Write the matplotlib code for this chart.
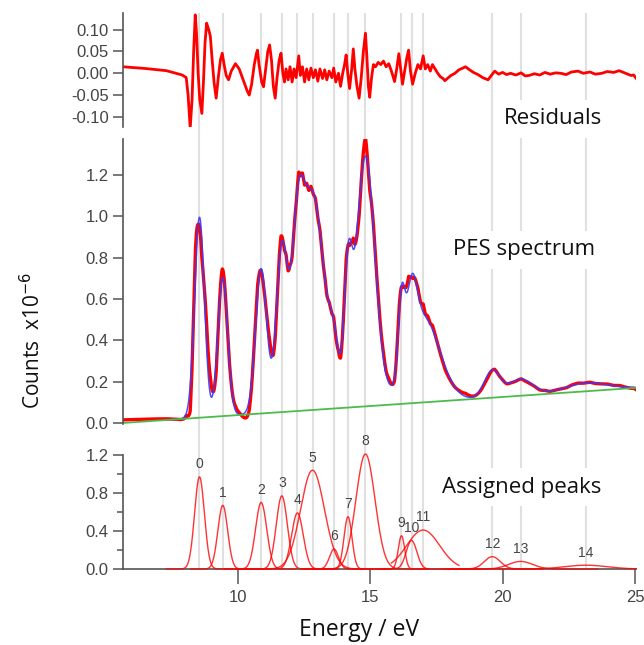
import numpy as np
import matplotlib.pyplot as plt

plt.rcParams['axes.unicode_minus'] = False

# peak centres (eV), heights (x1e-6 counts) and gaussian widths (eV)
peak_e = [8.55, 9.43, 10.88, 11.66, 12.25, 12.82, 13.63, 14.16, 14.82,
          16.18, 16.56, 17.00, 19.61, 20.68, 23.15]
peak_h = [0.97, 0.67, 0.70, 0.77, 0.59, 1.04, 0.21, 0.55, 1.21,
          0.35, 0.30, 0.41, 0.13, 0.08, 0.04]
peak_w = [0.185, 0.185, 0.21, 0.21, 0.22, 0.45, 0.17, 0.15, 0.36,
          0.12, 0.20, 0.62, 0.30, 0.45, 0.80]
# energy range over which each peak is drawn in the lower panel
peak_lo = [7.3, 8.2, 9.5, 10.3, 10.7, 9.9, 12.5, 13.2, 12.4,
           15.2, 15.4, 15.8, 17.7, 17.8, 18.0]
peak_hi = [9.8, 10.6, 12.2, 13.0, 13.8, 15.7, 14.7, 15.1, 17.2,
           17.1, 17.7, 18.35, 21.5, 23.6, 25.1]

# linear background (end points)
bg_e = [5.65, 25.05]
bg_v = [0.0, 0.17]

# residuals
res_e = [5.65, 6.5, 7.3, 7.9, 8.05, 8.12, 8.2, 8.27, 8.33, 8.39, 8.44, 8.5,
         8.56, 8.64, 8.7, 8.76, 8.82, 8.9, 8.96, 9.03, 9.1, 9.18, 9.26, 9.34,
         9.41, 9.48, 9.56, 9.65, 9.75, 9.91, 10.05, 10.2, 10.35, 10.43, 10.52,
         10.62, 10.7, 10.74, 10.8, 10.9, 10.97, 11.05, 11.13, 11.2, 11.27,
         11.34, 11.41, 11.48, 11.56, 11.63, 11.7, 11.76, 11.82, 11.9, 11.97,
         12.05, 12.12, 12.2, 12.3, 12.36, 12.44, 12.52, 12.6, 12.68, 12.76,
         12.85, 12.93, 13.02, 13.1, 13.2, 13.28, 13.36, 13.45, 13.55, 13.62,
         13.7, 13.8, 13.88, 13.96, 14.03, 14.09, 14.15, 14.22, 14.3, 14.36,
         14.42, 14.5, 14.58, 14.66, 14.74, 14.82, 14.88, 14.93, 14.98, 15.05,
         15.12, 15.2, 15.3, 15.4, 15.5, 15.6, 15.7, 15.8, 15.92, 16.0, 16.08,
         16.15, 16.22, 16.3, 16.38, 16.45, 16.52, 16.6, 16.7, 16.8, 16.9,
         17.0, 17.08, 17.17, 17.27, 17.35, 17.45, 17.55, 17.65, 17.75, 17.82,
         17.95, 18.05, 18.2, 18.35, 18.5, 18.6, 18.75, 18.9, 19.07, 19.25,
         19.45, 19.6, 19.7, 19.85, 20.0, 20.15, 20.3, 20.5, 20.7, 20.85, 21.0,
         21.2, 21.4, 21.6, 21.8, 22.0, 22.2, 22.4, 22.6, 22.85, 23.05, 23.3,
         23.5, 23.75, 23.95, 24.2, 24.4, 24.6, 24.85, 24.95, 25.05]
res_v = [0.015, 0.011, 0.006, -0.004, -0.01, -0.05, -0.126, -0.06, 0.05,
         0.134, 0.09, 0.0, -0.06, -0.092, -0.02, 0.07, 0.115, 0.1, 0.085,
         0.03, -0.02, -0.057, -0.01, 0.03, 0.046, 0.02, -0.005, -0.015, 0.005,
         0.022, 0.01, -0.015, -0.04, -0.05, -0.025, 0.02, 0.045, 0.053, 0.02,
         -0.02, -0.031, 0.01, 0.05, 0.065, 0.03, -0.03, -0.057, -0.01, 0.03,
         0.046, 0.0, -0.02, 0.01, -0.015, 0.015, -0.02, 0.01, -0.01, 0.04,
         -0.005, 0.015, -0.02, 0.01, -0.015, 0.012, -0.01, 0.008, -0.018,
         0.01, -0.012, 0.008, -0.015, 0.005, -0.01, 0.012, -0.02, 0.0, -0.03,
         0.0, 0.02, 0.042, 0.0, -0.035, 0.01, 0.056, 0.01, -0.03, -0.057,
         -0.01, 0.05, 0.092, 0.03, -0.03, -0.055, -0.01, 0.02, 0.015, 0.025,
         0.02, 0.028, 0.015, 0.022, 0.005, -0.019, 0.01, 0.045, 0.01, -0.025,
         0.005, 0.035, 0.053, 0.005, -0.025, 0.0, 0.02, 0.01, 0.04, 0.01,
         0.02, 0.005, 0.02, 0.01, 0.0, -0.008, -0.012, -0.017, -0.01, -0.005,
         0.0, 0.008, 0.012, 0.015, 0.008, 0.002, -0.003, -0.01, -0.015,
         -0.003, 0.005, -0.002, 0.002, -0.003, 0.0, -0.004, 0.001, -0.006,
         -0.005, -0.001, -0.004, 0.002, -0.002, 0.001, 0.0, -0.003, 0.003,
         0.005, 0.0, 0.003, -0.002, 0.0, 0.004, 0.002, 0.006, 0.001, -0.005,
         -0.004, -0.012]

xlim = (5.65, 25.05)


def gauss(x, c, h, w):
    return h * np.exp(-0.5 * ((x - c) / w) ** 2)


e = np.linspace(xlim[0], xlim[1], 3000)
bg = np.interp(e, bg_e, bg_v)
fit = bg.copy()
for c, h, w in zip(peak_e, peak_h, peak_w):
    fit += gauss(e, c, h, w)
meas = fit + np.interp(e, res_e, res_v)

fig = plt.figure(figsize=(6.44, 6.45), dpi=100)
L = 122.7 / 644
W = (636.3 - 122.7) / 644


def px_axes(top, bottom, **kw):
    return fig.add_axes([L, 1 - bottom / 645, W, (bottom - top) / 645], **kw)


ax_bg = px_axes(13.3, 569, zorder=-1)
ax_res = px_axes(13.3, 126.7)
ax_pes = px_axes(138.8, 424)
ax_pk = px_axes(454.5, 569)

ax_bg.set_xlim(xlim)
ax_bg.set_ylim(0, 1)
ax_bg.axis('off')
ax_bg.vlines(peak_e, 0, 1, color='#e0e0e0', lw=1.5)

tick_font = dict(family='Liberation Sans', size=12)
for ax in (ax_res, ax_pes, ax_pk):
    ax.set_facecolor('none')
    ax.set_xlim(xlim)
    for s in ('top', 'right'):
        ax.spines[s].set_visible(False)
    ax.spines['left'].set_color('#555555')
    ax.spines['left'].set_linewidth(1.2)
    ax.tick_params(axis='y', direction='out', length=7, width=1.1,
                   color='#555555', labelcolor='#444444', pad=3)

for ax in (ax_res, ax_pes):
    ax.spines['bottom'].set_visible(False)
    ax.set_xticks([])

# residuals
ax_res.plot(res_e, res_v, color='red', lw=2.0)
ax_res.set_ylim(-0.1225, 0.1376)
res_ticks = [-0.10, -0.05, 0.0, 0.05, 0.10]
ax_res.set_yticks(res_ticks)
ax_res.set_yticklabels(['%.2f' % v for v in res_ticks], **tick_font)

# PES spectrum
ax_pes.plot(e, meas, color='red', lw=2.4)
m = e >= 7.3
ax_pes.plot(e[m], fit[m], color='#3a3aff', lw=1.1, alpha=0.9)
ax_pes.plot(e, bg, color='#4cbb4c', lw=1.3)
ax_pes.set_ylim(-0.005, 1.375)
pes_ticks = [0.0, 0.2, 0.4, 0.6, 0.8, 1.0, 1.2]
ax_pes.set_yticks(pes_ticks)
ax_pes.set_yticklabels(['%.1f' % v for v in pes_ticks], **tick_font)

# assigned peaks
for i, (c, h, w) in enumerate(zip(peak_e, peak_h, peak_w)):
    x = np.linspace(peak_lo[i], min(peak_hi[i], xlim[1]), 400)
    ax_pk.plot(x, gauss(x, c, h, w), color='red', lw=1.0, alpha=0.8,
               clip_on=False, zorder=3)
    ax_pk.annotate(str(i), (c, h), xytext=(0, 4), textcoords='offset points',
                   ha='center', va='bottom', color='#444444',
                   family='Liberation Sans', size=10)
ax_pk.set_ylim(0, 1.205)
pk_ticks = [0.0, 0.4, 0.8, 1.2]
ax_pk.set_yticks(pk_ticks)
ax_pk.set_yticklabels(['%.1f' % v for v in pk_ticks], **tick_font)
ax_pk.set_yticks([0.2, 0.6, 1.0], minor=True)
ax_pk.tick_params(axis='y', which='minor', length=4, width=1.1,
                  color='#555555')
ax_pk.spines['bottom'].set_color('#555555')
ax_pk.spines['bottom'].set_linewidth(1.2)
x_ticks = [10, 15, 20, 25]
ax_pk.set_xticks(x_ticks)
ax_pk.set_xticklabels([str(v) for v in x_ticks], **tick_font)
ax_pk.tick_params(axis='x', direction='out', length=11, width=1.1,
                  color='#555555', labelcolor='#444444', pad=4)

title_font = dict(family='Open Sans', size=16, color='#111111')
box = dict(facecolor='white', edgecolor='none', pad=6)
fig.text(553 / 644, 1 - 119 / 645, 'Residuals', ha='center', va='center',
         bbox=box, **title_font)
fig.text(524 / 644, 1 - 250 / 645, 'PES spectrum', ha='center', va='center',
         bbox=box, **title_font)
fig.text(522 / 644, 1 - 487 / 645, 'Assigned peaks', ha='center',
         va='center', bbox=box, **title_font)
fig.text(359 / 644, 1 - 630 / 645, 'Energy / eV', ha='center', va='center',
         family='Open Sans', size=16.5, color='#111111')
fig.text(33 / 644, 1 - 340 / 645, 'Counts  x10$^{-6}$', rotation=90,
         ha='center', va='center', family='Open Sans', size=15,
         color='#111111')

fig.savefig('out.png', dpi=100)
